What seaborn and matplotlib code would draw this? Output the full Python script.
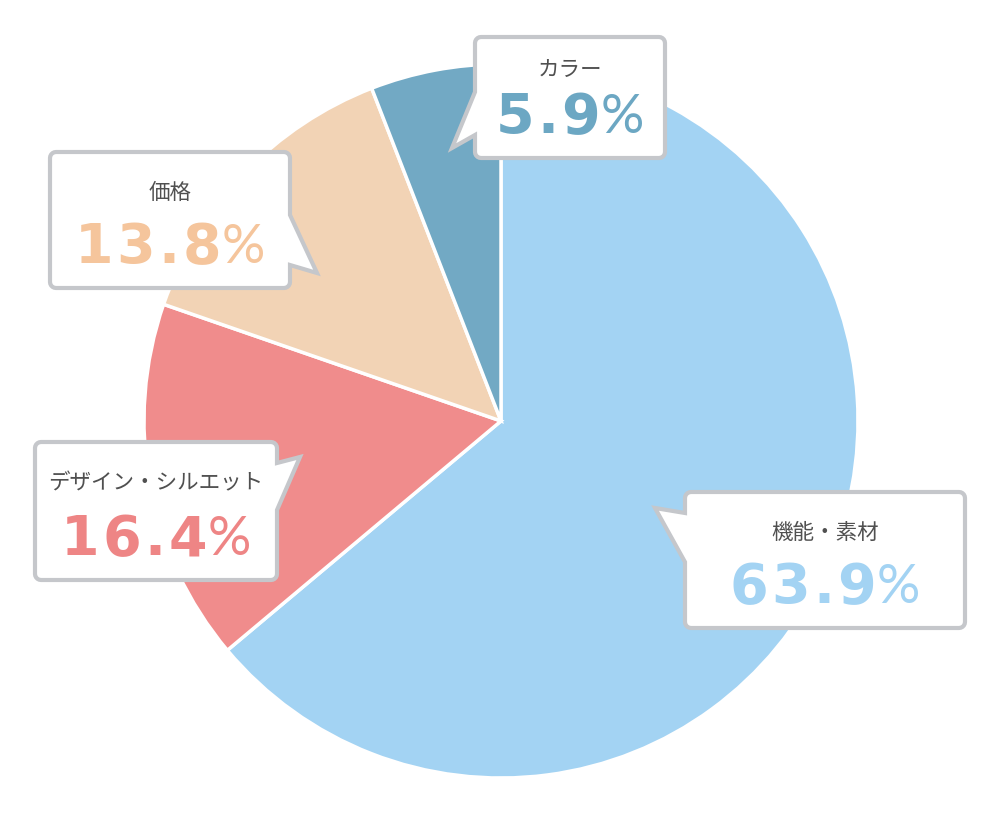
import matplotlib
matplotlib.use('Agg')
import matplotlib.pyplot as plt
from matplotlib.patches import Polygon
import seaborn as sns
import numpy as np

# データ（時計回り、12時から）
labels = ['機能・素材', 'デザイン・シルエット', '価格', 'カラー']
values = [63.9, 16.4, 13.8, 5.9]
slice_colors = ['#A3D3F3', '#F08C8C', '#F2D3B5', '#72A9C4']
number_colors = ['#A3D3F3', '#EE8585', '#F5C59C', '#6CA7C3']

W, H = 1000, 816

sns.set_theme(style='white')
plt.rcParams['font.family'] = ['Noto Sans CJK JP', 'DejaVu Sans']

fig = plt.figure(figsize=(10, 8.16), dpi=100)
ax = fig.add_axes([0, 0, 1, 1])


def fy(y):
    # 画像の y 座標 -> データ座標
    return H - y


ax.pie(values, colors=slice_colors, startangle=90, counterclock=False,
       center=(501, fy(421)), radius=357,
       wedgeprops=dict(edgecolor='white', linewidth=2.5))


def rounded_corner(cx, cy, r, a0, a1, n=6):
    t = np.radians(np.linspace(a0, a1, n))
    return [(cx + r * np.cos(t[i]), cy + r * np.sin(t[i])) for i in range(n)]


def callout(x0, y0, x1, y1, side, b0, b1, tip, r=6):
    # 画像座標で吹き出しを作る（y は下向き）
    pts = []
    pts += rounded_corner(x0 + r, y0 + r, r, 180, 270)
    pts += rounded_corner(x1 - r, y0 + r, r, 270, 360)
    if side == 'right':
        pts += [(x1, b0), tip, (x1, b1)]
    pts += rounded_corner(x1 - r, y1 - r, r, 0, 90)
    pts += rounded_corner(x0 + r, y1 - r, r, 90, 180)
    if side == 'left':
        pts += [(x0, b1), tip, (x0, b0)]
    pts = [(x, fy(y)) for x, y in pts]
    ax.add_patch(Polygon(pts, closed=True, facecolor='white',
                         edgecolor='#C5C7CB', linewidth=3, joinstyle='miter', zorder=5))


boxes = [
    dict(box=(685, 492, 965, 628), side='left', base=(513, 562), tip=(655, 508)),
    dict(box=(35, 442, 277, 580), side='right', base=(463, 510), tip=(300, 457)),
    dict(box=(50, 152, 290, 288), side='right', base=(215, 265), tip=(317, 273)),
    dict(box=(475, 37, 665, 158), side='left', base=(92, 135), tip=(452, 148)),
]

for b in boxes:
    x0, y0, x1, y1 = b['box']
    callout(x0, y0, x1, y1, b['side'], b['base'][0], b['base'][1], b['tip'])

ax.set_xlim(0, W)
ax.set_ylim(0, H)
ax.set_aspect('equal')
ax.axis('off')

fig.canvas.draw()
renderer = fig.canvas.get_renderer()

tracking = 3
for lab, val, col, b in zip(labels, values, number_colors, boxes):
    x0, y0, x1, y1 = b['box']
    cx = (x0 + x1) / 2
    base = y1 - 25
    label_y = (y0 + base - 40) / 2 + 5
    ax.text(cx, fy(label_y), lab, ha='center', va='center', fontsize=15.5,
            color='#505050', zorder=6)
    # 数字は一文字ずつ少し字間をあけて配置
    parts = []
    for ch in f'{val:.1f}':
        t = ax.text(0, fy(base), ch, ha='left', va='baseline', fontsize=40,
                    fontweight='bold', color=col, family='DejaVu Sans', zorder=6)
        parts.append([t, t.get_window_extent(renderer).width, tracking])
    parts[-1][2] = 1
    tp = ax.text(0, fy(base), '%', ha='left', va='baseline', fontsize=39,
                 fontweight='normal', color=col,
                 family=['Lato', 'DejaVu Sans'], zorder=6)
    parts.append([tp, tp.get_window_extent(renderer).width, 0])
    total = sum(w + g for _, w, g in parts)
    x = cx - total / 2
    for t, w, g in parts:
        t.set_x(x)
        x += w + g

fig.savefig('out.png', dpi=100, facecolor='white')
